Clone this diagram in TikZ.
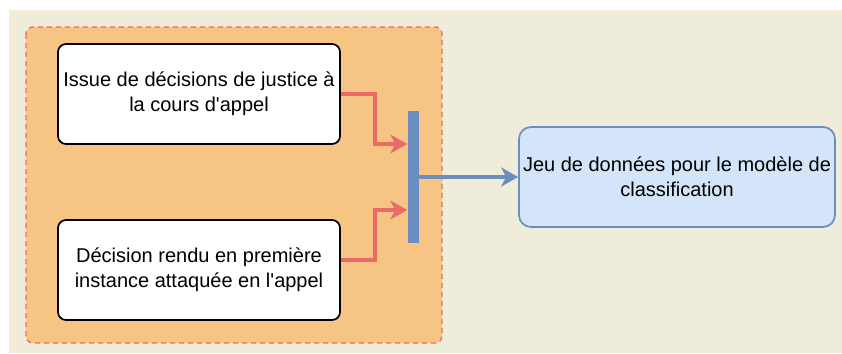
\documentclass[tikz,border=0pt]{standalone}
\usepackage{fontspec}
\setmainfont{Liberation Sans}
\usetikzlibrary{arrows.meta}
\definecolor{bgbeige}{HTML}{EFEDD9}
\definecolor{groupfill}{HTML}{F6C583}
\definecolor{redline}{HTML}{EA6B66}
\definecolor{bluebar}{HTML}{6C8EBF}
\definecolor{bluefill}{HTML}{D4E5F9}
\tikzset{
  srcbox/.style={draw=black, line width=1.7pt, fill=white, rounded corners=8pt,
    minimum width=282pt, minimum height=100pt, align=center,
    font=\fontsize{20}{25}\selectfont, inner sep=0pt},
  dstbox/.style={draw=bluebar, line width=1.7pt, fill=bluefill, rounded corners=12pt,
    minimum width=316pt, minimum height=100pt, align=center,
    font=\fontsize{20}{25}\selectfont, inner sep=0pt},
  redarrow/.style={draw=redline, line width=3.3pt,
    -{Triangle[length=17pt, width=19pt, inset=5pt]}},
  bluearrow/.style={draw=bluebar, line width=3.3pt,
    -{Triangle[length=17pt, width=19pt, inset=5pt]}},
}
\begin{document}
\begin{tikzpicture}[x=1pt, y=-1pt]
\useasboundingbox (0,0) rectangle (842,353);
% background panel
\fill[bgbeige] (9,10) rectangle (842,353);
% group container
\fill[groupfill, rounded corners=7pt] (26,27) rectangle (442,343);
\draw[redline, line width=1.4pt, dash pattern=on 5pt off 4pt, rounded corners=7pt] (26,27) rectangle (442,343);
% input boxes
\node[srcbox] (issue) at (199,94) {Issue de décisions de justice à\\la cours d\textquotesingle appel};
\node[srcbox] (decision) at (199,270) {Décision rendu en première\\instance attaquée en l\textquotesingle appel};
% merge bar
\node[fill=bluebar, minimum width=11pt, minimum height=132pt, inner sep=0pt] (bar) at (413,177) {};
% output box
\node[dstbox] (dataset) at (677,177) {Jeu de données pour le modèle de\\classification};
% connectors
\coordinate (in1) at (bar.west |- 0,144);
\coordinate (in2) at (bar.west |- 0,210);
\draw[redarrow] (issue.east) -- (375,94) -- (375,144) -- (in1);
\draw[redarrow] (decision.east |- 0,260) -- (375,260) -- (375,210) -- (in2);
\draw[bluearrow] (bar.east) -- (dataset.west);
\end{tikzpicture}
\end{document}
